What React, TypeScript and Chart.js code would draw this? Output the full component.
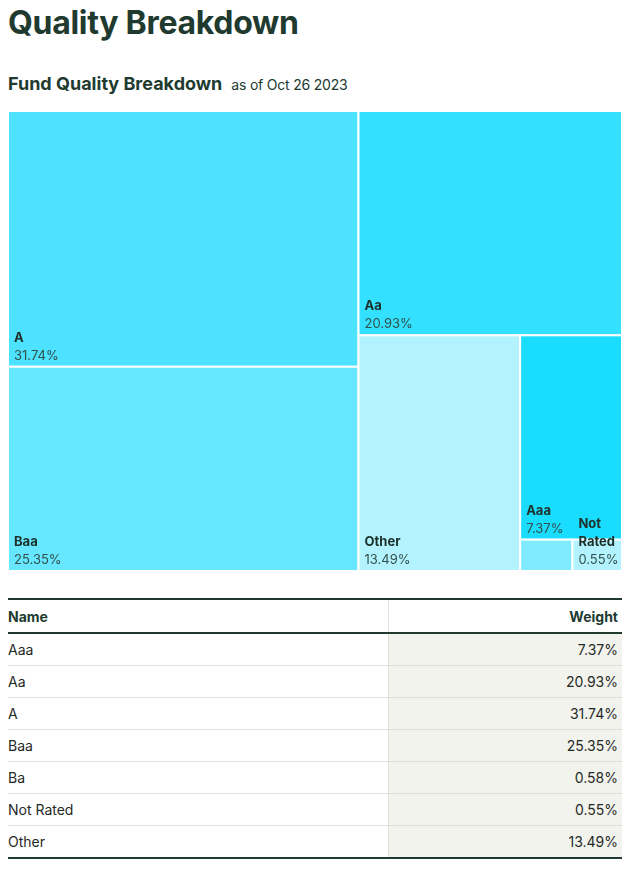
import React, { useEffect, useRef } from "react";
import { Chart, registerables } from "chart.js";

Chart.register(...registerables);

// ---- data ----
const categories = ["A", "Baa", "Aa", "Other", "Aaa", "Ba", "Not Rated"];
const weights = [31.74, 25.35, 20.93, 13.49, 7.37, 0.58, 0.55];
const cellColors = ["#4de2ff", "#66e6ff", "#33e0ff", "#b3f3ff", "#1adcff", "#80eaff", "#b3f3ff"];
const tableOrder = ["Aaa", "Aa", "A", "Baa", "Ba", "Not Rated", "Other"];

const FONT = "Inter, 'Liberation Sans', sans-serif";
const DARK = "#213a30";

type Rect = { i: number; x: number; y: number; w: number; h: number };

function worst(row: { area: number }[], s: number) {
  const sum = row.reduce((a, r) => a + r.area, 0);
  let mx = -Infinity, mn = Infinity;
  row.forEach((r) => { mx = Math.max(mx, r.area); mn = Math.min(mn, r.area); });
  return Math.max((s * s * mx) / (sum * sum), (sum * sum) / (s * s * mn));
}

function squarify(items: { i: number; area: number }[], x: number, y: number, w: number, h: number, out: Rect[]) {
  if (!items.length) return;
  const s = Math.min(w, h);
  let row = [items[0]];
  let k = 1;
  while (k < items.length) {
    const cand = row.concat(items[k]);
    if (worst(cand, s) <= worst(row, s)) { row = cand; k++; } else break;
  }
  const sum = row.reduce((a, r) => a + r.area, 0);
  if (w >= h) {
    const cw = sum / h;
    let cy = y;
    row.forEach((r) => { const rh = r.area / cw; out.push({ i: r.i, x, y: cy, w: cw, h: rh }); cy += rh; });
    squarify(items.slice(k), x + cw, y, w - cw, h, out);
  } else {
    const rh = sum / w;
    let cx = x;
    row.forEach((r) => { const rw = r.area / rh; out.push({ i: r.i, x: cx, y, w: rw, h: rh }); cx += rw; });
    squarify(items.slice(k), x, y + rh, w, h - rh, out);
  }
}

const treemapPlugin = {
  id: "treemapCells",
  afterDatasetsDraw(chart: any) {
    const { ctx, chartArea, scales } = chart;
    const W = chartArea.right - chartArea.left;
    const H = chartArea.bottom - chartArea.top;
    const total = weights.reduce((a, b) => a + b, 0);
    const items = weights
      .map((v, i) => ({ i, area: (v / total) * W * H }))
      .sort((a, b) => b.area - a.area);
    const rects: Rect[] = [];
    squarify(items, 0, 0, W, H, rects);
    const cells = rects.map((r) => {
      const xv0 = (r.x / W) * 100, xv1 = ((r.x + r.w) / W) * 100;
      const yv0 = (r.y / H) * 100, yv1 = ((r.y + r.h) / H) * 100;
      const x0 = scales.x.getPixelForValue(xv0), x1 = scales.x.getPixelForValue(xv1);
      const y0 = scales.y.getPixelForValue(yv0), y1 = scales.y.getPixelForValue(yv1);
      return { i: r.i, x0, x1, y0, y1 };
    });
    ctx.save();
    cells.forEach((c) => {
      ctx.fillStyle = cellColors[c.i];
      ctx.fillRect(c.x0, c.y0, c.x1 - c.x0, c.y1 - c.y0);
      ctx.strokeStyle = "#ffffff";
      ctx.lineWidth = 2;
      ctx.strokeRect(c.x0, c.y0, c.x1 - c.x0, c.y1 - c.y0);
    });
    const boxes: { x0: number; x1: number; y0: number; y1: number }[] = [];
    cells.forEach((c) => {
      const tx = c.x0 + 6;
      const maxW = c.x1 - c.x0 - 10;
      ctx.font = `bold 13px ${FONT}`;
      const words = categories[c.i].split(" ");
      const lines: string[] = [];
      let cur = "";
      words.forEach((wd) => {
        const t = cur ? cur + " " + wd : wd;
        if (cur && ctx.measureText(t).width > maxW) { lines.push(cur); cur = wd; } else cur = t;
      });
      if (cur) lines.push(cur);
      const pct = weights[c.i].toFixed(2) + "%";
      const pctBase = c.y1 - 7;
      const topBase = pctBase - 18 * lines.length;
      let wMax = 0;
      lines.forEach((l) => { wMax = Math.max(wMax, ctx.measureText(l).width); });
      ctx.font = `13px ${FONT}`;
      wMax = Math.max(wMax, ctx.measureText(pct).width);
      const box = { x0: tx, x1: tx + wMax, y0: topBase - 11, y1: pctBase + 4 };
      const hit = boxes.some((b) => box.x0 < b.x1 + 2 && box.x1 > b.x0 - 2 && box.y0 < b.y1 + 2 && box.y1 > b.y0 - 2);
      if (hit) return;
      boxes.push(box);
      ctx.fillStyle = "#1d2f29";
      ctx.font = `bold 13px ${FONT}`;
      ctx.textBaseline = "alphabetic";
      ctx.textAlign = "left";
      lines.forEach((l, k) => ctx.fillText(l, tx, topBase + 18 * k));
      ctx.fillStyle = "#33504a";
      ctx.font = `13px ${FONT}`;
      ctx.fillText(pct, tx, pctBase);
    });
    ctx.restore();
  },
};

function TreemapChart() {
  const ref = useRef<HTMLCanvasElement>(null);
  useEffect(() => {
    if (!ref.current) return;
    const chart = new Chart(ref.current, {
      type: "scatter",
      data: { datasets: [{ data: [], pointRadius: 0 }] },
      options: {
        animation: false,
        responsive: true,
        maintainAspectRatio: false,
        layout: { padding: 0 },
        events: [],
        plugins: { legend: { display: false }, tooltip: { enabled: false } },
        scales: {
          x: { type: "linear", min: 0, max: 100, display: false },
          y: { type: "linear", min: 0, max: 100, reverse: true, display: false },
        },
      },
      plugins: [treemapPlugin],
    });
    return () => chart.destroy();
  }, []);
  return (
    <div style={{ position: "absolute", left: 8, top: 111, width: 614, height: 460 }}>
      <canvas ref={ref} />
    </div>
  );
}

export default function App() {
  const cell: React.CSSProperties = { padding: 0, height: 31, borderBottom: "1px solid #dedede", fontSize: 14, color: "#1f2a26" };
  return (
    <div style={{ position: "absolute", left: 0, top: 0, width: 640, height: 877, fontFamily: FONT, background: "#fff" }}>
      <div style={{ position: "absolute", left: 8, top: 7, fontSize: 32, lineHeight: "32px", fontWeight: 700, color: DARK, letterSpacing: -0.3, whiteSpace: "nowrap" }}>
        Quality Breakdown
      </div>
      <div style={{ position: "absolute", left: 8, top: 75, lineHeight: "18px", color: DARK, whiteSpace: "nowrap" }}>
        <span style={{ fontSize: 18, fontWeight: 700 }}>Fund Quality Breakdown</span>
        <span style={{ fontSize: 14, marginLeft: 9, letterSpacing: -0.2 }}>as of Oct 26 2023</span>
      </div>
      <TreemapChart />
      <table style={{ position: "absolute", left: 8, top: 598, width: 614, borderCollapse: "collapse", borderTop: `2px solid ${DARK}`, borderBottom: `2px solid ${DARK}`, fontFamily: FONT }}>
        <thead>
          <tr>
            <th style={{ ...cell, height: 32, textAlign: "left", fontWeight: 700, color: DARK, borderBottom: `2px solid ${DARK}`, width: 380 }}>Name</th>
            <th style={{ ...cell, height: 32, textAlign: "right", fontWeight: 700, color: DARK, borderBottom: `2px solid ${DARK}`, borderLeft: "1px solid #dedede", paddingRight: 4 }}>Weight</th>
          </tr>
        </thead>
        <tbody>
          {tableOrder.map((n, k) => {
            const v = weights[categories.indexOf(n)];
            const last = k === tableOrder.length - 1;
            return (
              <tr key={n}>
                <td style={{ ...cell, textAlign: "left", borderBottom: last ? "none" : cell.borderBottom }}>{n}</td>
                <td style={{ ...cell, textAlign: "right", background: "#f3f3ee", borderLeft: "1px solid #dedede", paddingRight: 4, borderBottom: last ? "none" : cell.borderBottom }}>{v.toFixed(2)}%</td>
              </tr>
            );
          })}
        </tbody>
      </table>
    </div>
  );
}
